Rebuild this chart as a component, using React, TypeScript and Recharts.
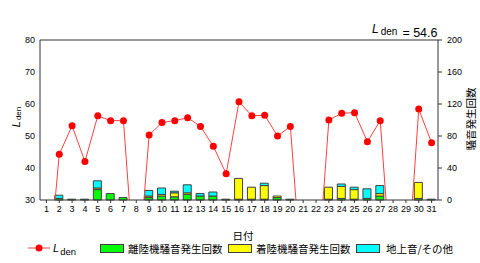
import React from 'react';
import { ComposedChart, Bar, Line, XAxis, YAxis, ReferenceLine } from 'recharts';

const days = ['1','2','3','4','5','6','7','8','9','10','11','12','13','14','15','16','17','18','19','20','21','22','23','24','25','26','27','28','29','30','31'];
const lden = [0,44.3,53.2,42.0,56.3,54.8,54.8,0,50.3,54.2,54.8,55.7,53.0,46.8,38.2,60.7,56.3,56.5,50.0,53.0,0,0,55.0,57.1,57.3,48.2,54.8,0,0,58.4,47.9];
const departures = [0,2,1,1,13,8,3,0,3,5,4,7,5,5,1,1,1,1,3,1,0,0,1,2,1,2,5,0,0,2,1];
const arrivals = [0,0,0,0,2,0,0,0,2,2,5,2,0,0,0,26,15,17,2,0,0,0,15,15,12,0,3,0,0,20,0];
const others = [0,4,0,0,9,0,0,0,7,8,2,10,3,5,0,0,0,3,0,0,0,0,0,3,3,12,10,0,0,0,0];
const leftTicks = [30,40,50,60,70,80];
const rightTicks = [0,40,80,120,160,200];
const ldenTotal = '54.6';

const data = days.map((d, i) => ({
  day: d,
  lden: lden[i],
  dep: departures[i],
  arr: arrivals[i],
  oth: others[i],
}));

const JP = '"Noto Sans CJK JP", sans-serif';
const SANS = '"Liberation Sans", Arial, sans-serif';

export default function App() {
  return (
    <div style={{ position: 'absolute', left: 0, top: 0, width: 480, height: 263, background: '#fff' }}>
      <ComposedChart width={480} height={263} data={data} margin={{ top: 40, right: 0, left: 0, bottom: 0 }}>
        <XAxis dataKey="day" interval={0} height={63} tickSize={3} tickMargin={3}
          axisLine={{ stroke: '#333' }} tickLine={{ stroke: '#333' }}
          tick={{ fontSize: 9, fill: '#000', fontFamily: SANS }} />
        <YAxis yAxisId="left" domain={[30, 80]} ticks={leftTicks} width={40} allowDataOverflow
          tickSize={0} tickMargin={5} axisLine={{ stroke: '#333' }}
          tick={{ fontSize: 9, fill: '#000', fontFamily: SANS }} />
        <YAxis yAxisId="right" orientation="right" domain={[0, 200]} ticks={rightTicks} width={42}
          tickSize={4} tickMargin={5} axisLine={{ stroke: '#333' }} tickLine={{ stroke: '#333' }}
          tick={{ fontSize: 9, fill: '#000', fontFamily: SANS }} />
        <ReferenceLine yAxisId="left" y={80} stroke="#333" />
        <Bar yAxisId="right" dataKey="dep" stackId="a" fill="#00ff00" stroke="#404040" strokeWidth={1} barSize={8} isAnimationActive={false} />
        <Bar yAxisId="right" dataKey="arr" stackId="a" fill="#ffff00" stroke="#404040" strokeWidth={1} barSize={8} isAnimationActive={false} />
        <Bar yAxisId="right" dataKey="oth" stackId="a" fill="#00ffff" stroke="#404040" strokeWidth={1} barSize={8} isAnimationActive={false} />
        <Line yAxisId="left" type="linear" dataKey="lden" stroke="#ff4040" strokeWidth={1}
          dot={{ r: 3.5, fill: '#ff0000', stroke: '#ff0000', strokeWidth: 0 }}
          activeDot={false} isAnimationActive={false} />
      </ComposedChart>
      <svg width={480} height={263} style={{ position: 'absolute', left: 0, top: 0, pointerEvents: 'none' }}>
        {/* top-right annotation */}
        <text x={372} y={33} fontFamily={SANS} fill="#000">
          <tspan fontSize={12} fontStyle="italic">L</tspan>
          <tspan fontSize={10} dx={2} dy={2}>den</tspan>
          <tspan fontSize={12.5} dx={5} dy={1.5}>{'= ' + ldenTotal}</tspan>
        </text>
        {/* left axis title */}
        <text transform="translate(19.5,117) rotate(-90)" textAnchor="middle" fontFamily={SANS} fill="#000">
          <tspan fontSize={11} fontStyle="italic">L</tspan>
          <tspan fontSize={8} dx={1} dy={1.5}>den</tspan>
        </text>
        {/* right axis title */}
        <text transform="translate(470,119) rotate(-90)" textAnchor="middle" dominantBaseline="central"
          fontFamily={JP} fontSize={10.5} fill="#000">騒音発生回数</text>
        {/* x axis title */}
        <text x={243} y={240} textAnchor="middle" fontFamily={JP} fontSize={10.5} fill="#000">日付</text>
        {/* legend */}
        <line x1={28} y1={248} x2={50} y2={248} stroke="#ff4040" strokeWidth={1} />
        <circle cx={39} cy={248} r={3.5} fill="#ff0000" />
        <text x={53} y={252} fontFamily={SANS} fill="#000">
          <tspan fontSize={11} fontStyle="italic">L</tspan>
          <tspan fontSize={9.5} dx={1} dy={3}>den</tspan>
        </text>
        <rect x={100.5} y={244.5} width={23} height={8} fill="#00ff00" stroke="#404040" />
        <text x={128} y={253} fontFamily={JP} fontSize={10.5} fill="#000">離陸機騒音発生回数</text>
        <rect x={228.5} y={244.5} width={23} height={8} fill="#ffff00" stroke="#404040" />
        <text x={256} y={253} fontFamily={JP} fontSize={10.5} fill="#000">着陸機騒音発生回数</text>
        <rect x={356.5} y={244.5} width={23} height={8} fill="#00ffff" stroke="#404040" />
        <text x={386} y={253} fontFamily={JP} fontSize={10.5} fill="#000">地上音/その他</text>
      </svg>
    </div>
  );
}
